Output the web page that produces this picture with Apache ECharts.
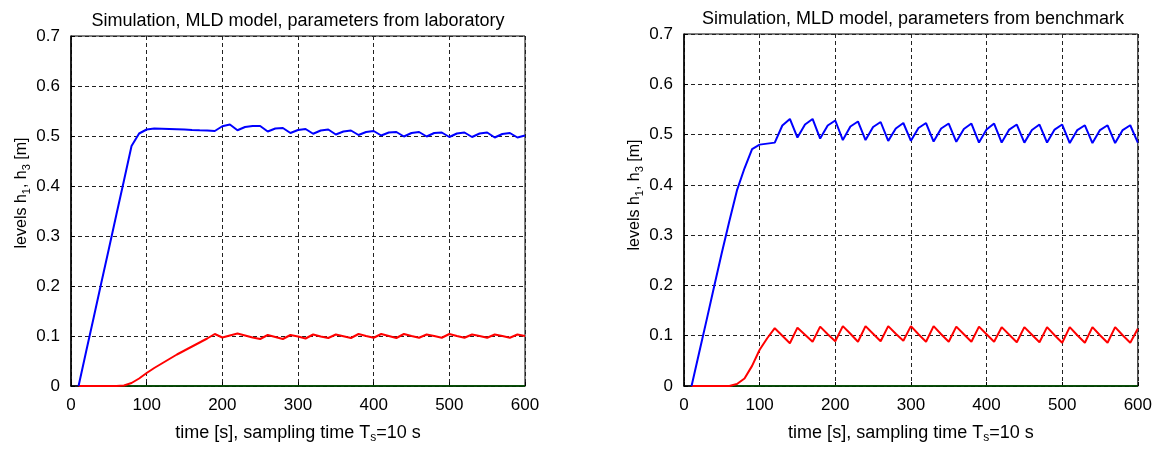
<!DOCTYPE html>
<html>
<head>
<meta charset="utf-8">
<script src="https://cdn.jsdelivr.net/npm/echarts@6/dist/echarts.min.js"></script>
<style>
html,body{margin:0;padding:0;background:#fff;}
#chart{width:1155px;height:449px;}
</style>
</head>
<body>
<div id="chart"></div>
<script>
// ---- data ----
var titles = ['Simulation, MLD model, parameters from laboratory', 'Simulation, MLD model, parameters from benchmark'];
var xTicks = [0, 100, 200, 300, 400, 500, 600];
var yTicks = [0, 0.1, 0.2, 0.3, 0.4, 0.5, 0.6, 0.7];
var timeS = [10,20,30,40,50,60,70,80,90,100,110,120,130,140,150,160,170,180,190,200,
  210,220,230,240,250,260,270,280,290,300,310,320,330,340,350,360,370,380,390,400,
  410,420,430,440,450,460,470,480,490,500,510,520,530,540,550,560,570,580,590,600];
var labH1 = [0,0.069,0.137,0.206,0.274,0.343,0.411,0.480,0.505,0.513,
  0.515,0.5145,0.514,0.5135,0.513,0.5122,0.5115,0.511,0.510,0.5195,
  0.523,0.5115,0.518,0.520,0.520,0.509,0.515,0.516,0.506,0.512,
  0.514,0.5045,0.511,0.513,0.503,0.509,0.511,0.502,0.508,0.510,
  0.501,0.507,0.508,0.499,0.506,0.508,0.499,0.506,0.507,0.498,
  0.505,0.507,0.498,0.505,0.507,0.497,0.504,0.506,0.497,0.501];
var labH3 = [0,0,0,0,0,0,0.001,0.006,0.015,0.026,
  0.036,0.045,0.054,0.063,0.071,0.079,0.087,0.095,0.104,0.097,
  0.101,0.105,0.101,0.097,0.094,0.102,0.098,0.094,0.102,0.099,
  0.095,0.103,0.099,0.096,0.103,0.0995,0.096,0.104,0.100,0.0965,
  0.104,0.100,0.096,0.104,0.100,0.0965,0.103,0.100,0.0965,0.104,
  0.100,0.0965,0.103,0.100,0.0965,0.103,0.100,0.0965,0.103,0.100];
var benchH1 = [0,0.066,0.132,0.199,0.265,0.328,0.389,0.433,0.471,0.480,
  0.482,0.484,0.518,0.531,0.494,0.520,0.531,0.492,0.518,0.528,
  0.489,0.516,0.526,0.489,0.515,0.525,0.4875,0.512,0.523,0.4875,
  0.513,0.523,0.486,0.512,0.522,0.4855,0.511,0.522,0.484,0.510,
  0.522,0.484,0.510,0.520,0.484,0.509,0.520,0.484,0.510,0.520,
  0.483,0.509,0.5185,0.483,0.509,0.5185,0.483,0.509,0.5185,0.484];
var benchH3 = [0,0,0,0,0,0,0.004,0.015,0.040,0.072,
  0.095,0.115,0.100,0.085,0.116,0.102,0.088,0.118,0.103,0.089,
  0.119,0.104,0.088,0.119,0.104,0.089,0.119,0.104,0.090,0.119,
  0.103,0.088,0.119,0.103,0.088,0.118,0.103,0.088,0.118,0.103,
  0.088,0.117,0.102,0.087,0.117,0.102,0.087,0.117,0.101,0.086,
  0.117,0.101,0.086,0.117,0.101,0.086,0.117,0.101,0.086,0.114];
var baseT = [10, 600];
var baseV = [0, 0];

// ---- helpers ----
var FONT = '"Liberation Sans", Arial, Helvetica, sans-serif';
function pairs(t, v) { return t.map(function (x, i) { return [x, v[i]]; }); }
var grids = [
  {left: 71, top: 36, width: 454, height: 358, yShift: 36},
  {left: 684, top: 34, width: 457, height: 360, yShift: 30}
];
var richX = {
  n: {color: '#000', fontFamily: FONT, fontSize: 18, lineHeight: 22},
  s: {color: '#000', fontFamily: FONT, fontSize: 12, lineHeight: 14, verticalAlign: 'bottom'}
};
var richY = {
  n: {color: '#000', fontFamily: FONT, fontSize: 16, lineHeight: 20},
  s: {color: '#000', fontFamily: FONT, fontSize: 11, lineHeight: 12, verticalAlign: 'bottom'}
};
function xAx(i) {
  return {
    gridIndex: i, type: 'value', min: xTicks[0], max: xTicks[xTicks.length - 1], interval: xTicks[1] - xTicks[0],
    axisLine: {show: true, onZero: false, lineStyle: {color: '#000', width: 1.5}},
    axisTick: {show: true, inside: true, length: 4, lineStyle: {color: '#000'}},
    axisLabel: {color: '#000', fontFamily: FONT, fontSize: 17, margin: 11, showMinLabel: true, showMaxLabel: true},
    splitLine: {show: true, lineStyle: {color: '#222', width: 1, type: [4, 3]}},
    name: '{n|time [s], sampling time T}{s|s}{n|=10 s}',
    nameLocation: 'middle', nameGap: 36,
    nameTextStyle: {color: '#000', fontFamily: FONT, fontSize: 18, rich: richX}
  };
}
function yAx(i) {
  return {
    gridIndex: i, type: 'value', min: yTicks[0], max: yTicks[yTicks.length - 1], interval: 0.1,
    axisLine: {show: true, onZero: false, lineStyle: {color: '#000', width: 1.5}},
    axisTick: {show: true, inside: true, length: 4, lineStyle: {color: '#000'}},
    axisLabel: {color: '#000', fontFamily: FONT, fontSize: 17, margin: 11, showMinLabel: true, showMaxLabel: true,
      formatter: function (v) { return v === 0 ? '0' : v.toFixed(1); }},
    splitLine: {show: true, lineStyle: {color: '#222', width: 1, type: [4, 3]}},
    name: '{n|levels h}{s|1}{n|, h}{s|3}{n| [m]}',
    nameLocation: 'middle', nameGap: 39, nameRotate: 90,
    nameTextStyle: {color: '#000', fontFamily: FONT, fontSize: 16, rich: richY, padding: [0, 0, 0, grids[i].yShift]}
  };
}
function lineS(i, t, v, color, w) {
  return {type: 'line', xAxisIndex: i, yAxisIndex: i, data: pairs(t, v), showSymbol: false, symbol: 'none',
    lineStyle: {color: color, width: w}, itemStyle: {color: color}, clip: true, animation: false, z: 3};
}

var chart = echarts.init(document.getElementById('chart'), null, {renderer: 'canvas'});
chart.setOption({
  animation: false,
  backgroundColor: '#fff',
  title: [
    {text: titles[0], left: 298, top: 12, textAlign: 'center', padding: 0,
      textStyle: {color: '#000', fontFamily: FONT, fontSize: 18, fontWeight: 'normal'}},
    {text: titles[1], left: 913, top: 10, textAlign: 'center', padding: 0,
      textStyle: {color: '#000', fontFamily: FONT, fontSize: 18, fontWeight: 'normal'}}
  ],
  grid: grids.map(function (g) {
    return {left: g.left, top: g.top, width: g.width, height: g.height, show: true,
      borderColor: '#000', borderWidth: 1, backgroundColor: 'transparent', containLabel: false};
  }),
  xAxis: [xAx(0), xAx(1)],
  yAxis: [yAx(0), yAx(1)],
  series: [
    lineS(0, baseT, baseV, '#006000', 1.5),
    lineS(0, timeS, labH3, '#ff0000', 2),
    lineS(0, timeS, labH1, '#0000ff', 2),
    lineS(1, baseT, baseV, '#006000', 1.5),
    lineS(1, timeS, benchH3, '#ff0000', 2),
    lineS(1, timeS, benchH1, '#0000ff', 2)
  ]
});
</script>
</body>
</html>
